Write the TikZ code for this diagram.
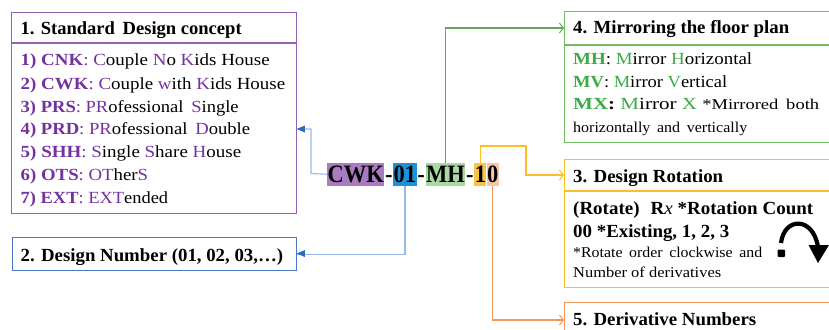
\documentclass[tikz,border=0pt]{standalone}
\usepackage{graphicx}
\usepackage{fontspec}
\setmainfont{Liberation Serif}
\newfontfamily\codefont{Liberation Serif}[FakeStretch=0.9]
\usetikzlibrary{arrows.meta}

\definecolor{purpB}{RGB}{150,95,180}
\definecolor{purpT}{RGB}{115,50,160}
\definecolor{greenB}{RGB}{112,190,95}
\definecolor{greenT}{RGB}{60,170,70}
\definecolor{greenL}{RGB}{105,165,95}
\definecolor{yellowB}{RGB}{250,190,40}
\definecolor{orangeB}{RGB}{245,150,90}
\definecolor{blueB}{RGB}{70,120,195}
\definecolor{blueL}{RGB}{150,185,230}
\definecolor{blueA}{RGB}{45,105,190}
\definecolor{cwkbg}{RGB}{170,122,195}
\definecolor{numbg}{RGB}{30,145,215}
\definecolor{mhbg}{RGB}{170,216,163}
\definecolor{onebg}{RGB}{248,196,68}
\definecolor{zerobg}{RGB}{247,198,173}

\newcommand\pu[1]{\textcolor{purpT}{#1}}
\newcommand\gr[1]{\textcolor{greenT}{#1}}
% set a line to a given width, keeping its height
\newcommand\W[2]{\resizebox{#1pt}{\height}{#2}}

\begin{document}
\begin{tikzpicture}[x=1pt,y=-1pt,
  txt/.style={anchor=base west, inner sep=0pt, font=\fontsize{17}{21}\selectfont},
  hd/.style={anchor=base west, inner sep=0pt, font=\fontsize{18.5}{22}\selectfont\bfseries},
  sm/.style={anchor=base west, inner sep=0pt, font=\fontsize{15}{19}\selectfont},
  box/.style={draw=#1, line width=1.3pt, anchor=north west, inner sep=0pt},
  code/.style={anchor=base west, inner xsep=0.4pt, inner ysep=0pt,
    text height=19pt, text depth=3.5pt,
    font=\codefont\fontsize{25}{25}\selectfont\bfseries},
  conn/.style={line width=1.1pt},
  barb/.style={-{Straight Barb[length=4pt,width=10pt,line width=1pt]}}
]
\useasboundingbox (0,0) rectangle (829,329);

% ---- 1. Standard design concept
\node[box=purpB, minimum width=285pt, minimum height=201pt] (b1) at (11,12) {};
\draw[purpB, line width=1.1pt] (11,43) -- (296,43);
\node[hd] (h1) at (20.5,35) {\W{221}{1. Standard\, Design concept}};
\node[txt] (l1) at (20.5,66)  {\W{249}{\textbf{\pu{1) CNK}}\pu{:} \pu{C}ouple \pu{N}o \pu{K}ids House}};
\node[txt] (l2) at (20.5,89)  {\W{264.5}{\textbf{\pu{2) CWK}}\pu{:} \pu{C}ouple \pu{w}ith \pu{K}ids House}};
\node[txt] (l3) at (20.5,112) {\W{218}{\textbf{\pu{3) PRS}}\pu{:} \pu{PR}ofessional\, \pu{S}ingle}};
\node[txt] (l4) at (20.5,134) {\W{229.5}{\textbf{\pu{4) PRD}}\pu{:} \pu{PR}ofessional\, \pu{D}ouble}};
\node[txt] (l5) at (20.5,157) {\W{220.5}{\textbf{\pu{5) SHH}}\pu{:} \pu{S}ingle \pu{S}hare \pu{H}ouse}};
\node[txt] (l6) at (20.5,180) {\W{127.5}{\textbf{\pu{6) OTS}}\pu{:} \pu{OT}her\pu{S}}};
\node[txt] (l7) at (20.5,203) {\W{147.5}{\textbf{\pu{7) EXT}}\pu{:} \pu{EXT}ended}};

% ---- 2. Design number
\node[box=blueB, minimum width=284pt, minimum height=33pt] (b2) at (12,237) {};
\node[hd] (h2) at (20.5,261) {\W{262.5}{2. Design Number (01, 02, 03,\dots)}};

% ---- 4. Mirroring
\node[box=greenB, minimum width=280pt, minimum height=131pt] (b4) at (564,11) {};
\draw[greenB, line width=1.1pt] (564,45) -- (845,45);
\node[hd] (h4) at (573,34) {\W{216}{4. Mirroring the floor plan}};
\node[txt] (m1) at (573,65)  {\W{179}{\textbf{\gr{MH}}: \gr{M}irror \gr{H}orizontal}};
\node[txt] (m2) at (573,87)  {\W{154}{\textbf{\gr{MV}}: \gr{M}irror \gr{V}ertical}};
\node[txt] (m3) at (573,109) {\W{246}{\textbf{\gr{MX}:} \gr{M}irror \gr{X} {\fontsize{15}{19}\selectfont*Mirrored\, both}}};
\node[sm]  (m4) at (573,132) {\W{174}{horizontally\, and\, vertically}};

% ---- 3. Design rotation
\node[box=yellowB, minimum width=280pt, minimum height=128pt] (b3) at (564,159) {};
\draw[yellowB, line width=1.1pt] (564,191) -- (845,191);
\node[hd] (h3) at (573,182) {\W{150}{3. Design Rotation}};
\node[hd] (r1) at (573,214) {\W{240}{(Rotate)\, \,R{\mdseries\itshape x} *Rotation Count}};
\node[hd] (r2) at (573,237) {\W{156}{00 *Existing, 1, 2, 3}};
\node[sm] (r3) at (573,257) {\W{189}{*Rotate\, order\, clockwise\, and}};
\node[sm] (r4) at (573,277) {\W{148}{Number of derivatives}};
% clockwise rotation symbol
\fill[rounded corners=1pt] (777.5,249.5) rectangle (785,257);
\draw[line width=4.2pt] (781,243) .. controls (784,217) and (813,216) .. (818,247);
\fill (808.5,245) -- (829,245) -- (818,263) -- cycle;

% ---- 5. Derivative numbers
\node[box=orangeB, minimum width=280pt, minimum height=60pt] (b5) at (564,302) {};
\node[hd] (h5) at (573,325) {\W{183}{5. Derivative Numbers}};

% ---- the code
\node[code, fill=cwkbg]  (cwk)  at (327,182) {CWK};
\node[code]              (d1)   at (cwk.base east) {-};
\node[code, fill=numbg]  (num)  at (d1.base east) {01};
\node[code]              (d2)   at (num.base east) {-};
\node[code, fill=mhbg]   (mh)   at (d2.base east) {MH};
\node[code]              (d3)   at (mh.base east) {-};
\node[code, fill=onebg]  (one)  at (d3.base east) {1};
\node[code, fill=zerobg] (zero) at (one.base east) {0};

% ---- connectors
\draw[conn, blueL] (cwk.west) -- (311,173.5) -- (311,129) -- (b1.east |- 0,129);
\fill[blueA] (296.8,129) -- ++(8,-3.5) -- ++(0,7) -- cycle;
\draw[conn, blueL] (num.south) |- (b2.east);
\fill[blueA] (296.8,253.5) -- ++(8,-3.5) -- ++(0,7) -- cycle;
\draw[conn, greenL, barb] (mh.north) |- (b4.west |- 0,28);
\draw[conn, yellowB, barb] (one.north) |- (526,146) |- (b3.west |- 0,175);
\draw[conn, orangeB, barb] (zero.south) |- (b5.west |- 0,320);
\end{tikzpicture}
\end{document}
